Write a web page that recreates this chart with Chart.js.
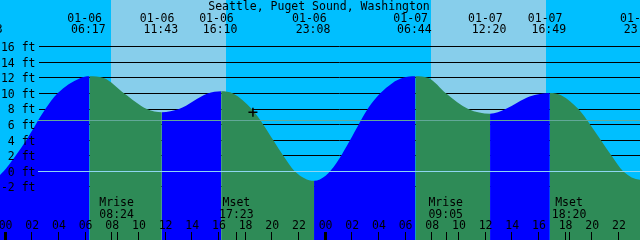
<!DOCTYPE html>
<html><head><meta charset="utf-8">
<script src="https://cdn.jsdelivr.net/npm/chart.js@4.4.1/dist/chart.umd.min.js"></script>
<style>html,body{margin:0;padding:0;background:#00BFFF;overflow:hidden}canvas{display:block}</style>
</head><body><canvas id="c" width="640" height="240"></canvas>
<script>
// ---- data (hours counted from 01-06 00:00, heights in ft) ----
const title = 'Seattle, Puget Sound, Washington';
// tide heights (extremes plus grid-line crossings)
const tideHours = [-7.6, -1.45, -0.42, 0.75, 1.55, 2.25, 2.98, 3.88, 5.58, 6.283,
  7.35, 8.9, 10.6, 11.717,
  13.0, 15.15, 16.167,
  17.06, 18.46, 19.33, 20.08, 20.83, 21.7, 23.133,
  24.0, 24.8, 25.6, 26.4, 27.2, 28.1, 29.0, 29.8, 30.733,
  31.7, 33.05, 34.7, 36.333,
  37.5, 39.3, 40.817,
  41.7, 42.96, 43.85, 44.65, 45.45, 46.33, 47.733, 54.9];
const tideFeet = [10.1, -1.1, -0.45, 2, 4, 6, 8, 10, 11.96, 12.2,
  12, 10, 8, 7.6,
  8, 10, 10.3,
  10, 8, 6, 4, 2, 0, -1.2,
  -0.55, 1.05, 3.29, 5.77, 8.13, 10.02, 11.33, 12.01, 12.2,
  12, 10, 8, 7.4,
  8, 9.6, 10.05,
  9.75, 8, 6, 4, 2, 0, -1.1, 12.1];
const eventDates = ['01-05','01-06','01-06','01-06','01-06','01-07','01-07','01-07','01-07'];
const eventTimes = ['22:33','06:17','11:43','16:10','23:08','06:44','12:20','16:49','23:44'];
const eventDay   = [-1, 0, 0, 0, 0, 1, 1, 1, 1];
const moonNames = ['Mrise','Mset','Mrise','Mset'];
const moonTimes = ['08:24','17:23','09:05','18:20'];
const moonDay   = [0, 0, 1, 1];
const sunriseHours = [7.9, 31.9];
const sunsetHours  = [16.53, 40.53];
const yTicksFt = [-2, 0, 2, 4, 6, 8, 10, 12, 14, 16];
const hourTicks = [0,2,4,6,8,10,12,14,16,18,20,22,24,26,28,30,32,34,36,38,40,42,44,46];
const datumFt = 0;
const mslFt = 6.52;
const nowHour = [18.55];
const nowFeet = [7.6];

// ---- styles ----
const NIGHT = '#00BFFF', DAY = '#87CEEB', RISE = '#0000FF', FALL = '#2E8B57';
const DATUM = '#8ED6F2', MSL = '#62A898';
const FONT = '11.5px "DejaVu Sans Mono", "Liberation Mono", monospace';

const toH = (t, d) => { const [hh, mm] = t.split(':').map(Number); return d * 24 + hh + mm / 60; };

const tidePlugin = {
  id: 'tide',
  beforeDraw(chart) {
    const {ctx, scales: {x, y}} = chart;
    ctx.save();
    ctx.fillStyle = NIGHT;
    ctx.fillRect(0, 0, chart.width, chart.height);
    ctx.fillStyle = DAY;
    sunriseHours.forEach((a, i) => {
      const xa = Math.round(x.getPixelForValue(a)), xb = Math.round(x.getPixelForValue(sunsetHours[i]));
      ctx.fillRect(xa, 0, xb - xa, chart.height);
    });
    ctx.strokeStyle = '#000'; ctx.lineWidth = 1;
    ctx.beginPath();
    yTicksFt.forEach(v => {
      const py = Math.round(y.getPixelForValue(v) - 0.5) + 0.5;
      ctx.moveTo(39, py); ctx.lineTo(chart.width, py);
    });
    ctx.stroke();
    ctx.restore();
  },
  afterDatasetsDraw(chart) {
    const {ctx, scales: {x, y}} = chart;
    ctx.save();
    // datum and mean sea level lines
    [[datumFt, DATUM], [mslFt, MSL]].forEach(([v, c]) => {
      const py = Math.round(y.getPixelForValue(v) - 0.5) + 0.5;
      ctx.strokeStyle = c; ctx.lineWidth = 1;
      ctx.beginPath(); ctx.moveTo(38, py); ctx.lineTo(chart.width, py); ctx.stroke();
    });
    ctx.fillStyle = '#000';
    ctx.font = FONT;
    // y labels
    ctx.textAlign = 'right'; ctx.textBaseline = 'alphabetic';
    yTicksFt.forEach(v => ctx.fillText(v + ' ft', 35.5, y.getPixelForValue(v) + 4.3));
    // title
    ctx.textAlign = 'center';
    ctx.fillText(title, 319, 9.5);
    // tide events
    eventTimes.forEach((t, i) => {
      const px = x.getPixelForValue(toH(t, eventDay[i]));
      ctx.fillText(eventDates[i], px - 4.7, 21.5);
      ctx.fillText(t, px - 1, 33.3);
    });
    // moon events
    moonTimes.forEach((t, i) => {
      const px = x.getPixelForValue(toH(t, moonDay[i]));
      ctx.fillText(moonNames[i], px - 1, 206);
      ctx.fillText(t, px - 1, 217.7);
      ctx.fillRect(Math.round(px) - 1, 232, 1, 8);
    });
    // hour ticks
    hourTicks.forEach(h => {
      const px = x.getPixelForValue(h);
      ctx.fillText(String(h % 24).padStart(2, '0'), px, 229.3);
      const c = Math.round(px) - 1;
      const w = (h % 24 === 0) ? 3 : 1;
      ctx.fillRect(c - (w - 1) / 2, 232, w, 8);
    });
    ctx.restore();
  }
};

new Chart(document.getElementById('c'), {
  type: 'line',
  data: {
    datasets: [
      {
        type: 'scatter',
        data: nowHour.map((h, i) => ({x: h, y: nowFeet[i]})),
        pointStyle: 'cross', pointRadius: 4.5, pointBorderWidth: 1.5,
        borderColor: '#000', backgroundColor: '#000', order: 0
      },
      {
        data: tideHours.map((h, i) => ({x: h, y: tideFeet[i]})),
        cubicInterpolationMode: 'monotone',
        pointRadius: 0, borderWidth: 0, borderColor: 'rgba(0,0,0,0)',
        fill: 'start', backgroundColor: RISE,
        segment: { backgroundColor: c => (c.p1.parsed.y >= c.p0.parsed.y ? RISE : FALL) },
        order: 1
      }
    ]
  },
  options: {
    responsive: false, animation: false,
    layout: {padding: 0, autoPadding: false},
    plugins: {legend: {display: false}, tooltip: {enabled: false}, title: {display: false}},
    events: [],
    scales: {
      x: {type: 'linear', min: -0.42, max: 47.58, display: false},
      y: {type: 'linear', min: -8.806, max: 22.003, display: false}
    }
  },
  plugins: [tidePlugin]
});
</script>
</body></html>
